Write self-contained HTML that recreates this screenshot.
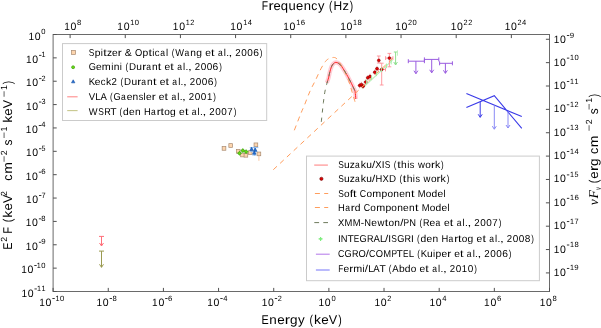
<!DOCTYPE html>
<html><head><meta charset="utf-8"><style>
html,body{margin:0;padding:0;background:#fff;}
svg{display:block;will-change:transform;}
text{font-family:"Liberation Sans", sans-serif;text-rendering:geometricPrecision;}
</style></head><body>
<svg width="601" height="328" viewBox="0 0 601 328">
<rect width="601" height="328" fill="#fff"/>
<rect x="53.1" y="34.5" width="496.4" height="257" fill="none" stroke="#6a6a6a" stroke-width="1"/>
<path d="M53.1 291.5V287.9M108.26 291.5V287.9M163.41 291.5V287.9M218.57 291.5V287.9M273.72 291.5V287.9M328.88 291.5V287.9M384.03 291.5V287.9M439.19 291.5V287.9M494.34 291.5V287.9M549.5 291.5V287.9M70.1 34.5V38.1M125.26 34.5V38.1M180.42 34.5V38.1M235.57 34.5V38.1M290.73 34.5V38.1M345.88 34.5V38.1M401.04 34.5V38.1M456.19 34.5V38.1M511.35 34.5V38.1M53.1 34.5H56.7M53.1 57.86H56.7M53.1 81.23H56.7M53.1 104.59H56.7M53.1 127.95H56.7M53.1 151.32H56.7M53.1 174.68H56.7M53.1 198.05H56.7M53.1 221.41H56.7M53.1 244.77H56.7M53.1 268.14H56.7M53.1 291.5H56.7M549.5 39.28H545.9M549.5 62.65H545.9M549.5 86.01H545.9M549.5 109.37H545.9M549.5 132.74H545.9M549.5 156.1H545.9M549.5 179.46H545.9M549.5 202.83H545.9M549.5 226.19H545.9M549.5 249.56H545.9M549.5 272.92H545.9" stroke="#505050" stroke-width="1" fill="none"/>
<text x="39.33" y="306" font-size="10.6" textLength="5.6" lengthAdjust="spacingAndGlyphs">1</text>
<text x="45.61" y="306" font-size="10.6" textLength="5.86" lengthAdjust="spacingAndGlyphs">0</text>
<rect x="52.37" y="298.05" width="2.39" height="0.8"/>
<text x="55.46" y="300.5" font-size="7.63" textLength="4.03" lengthAdjust="spacingAndGlyphs">1</text>
<text x="59.98" y="300.5" font-size="7.63" textLength="4.22" lengthAdjust="spacingAndGlyphs">0</text>
<text x="96.58" y="306" font-size="10.6" textLength="5.6" lengthAdjust="spacingAndGlyphs">1</text>
<text x="102.86" y="306" font-size="10.6" textLength="5.86" lengthAdjust="spacingAndGlyphs">0</text>
<rect x="109.63" y="298.05" width="2.39" height="0.8"/>
<text x="112.63" y="300.5" font-size="7.63" textLength="4.27" lengthAdjust="spacingAndGlyphs">8</text>
<text x="152.12" y="306" font-size="10.6" textLength="5.6" lengthAdjust="spacingAndGlyphs">1</text>
<text x="158.4" y="306" font-size="10.6" textLength="5.86" lengthAdjust="spacingAndGlyphs">0</text>
<rect x="165.16" y="298.05" width="2.39" height="0.8"/>
<text x="168.11" y="300.5" font-size="7.63" textLength="4.37" lengthAdjust="spacingAndGlyphs">6</text>
<text x="207.25" y="306" font-size="10.6" textLength="5.6" lengthAdjust="spacingAndGlyphs">1</text>
<text x="213.53" y="306" font-size="10.6" textLength="5.86" lengthAdjust="spacingAndGlyphs">0</text>
<rect x="220.29" y="298.05" width="2.39" height="0.8"/>
<text x="223.32" y="300.5" font-size="7.63" textLength="4.22" lengthAdjust="spacingAndGlyphs">4</text>
<text x="261.71" y="306" font-size="10.6" textLength="5.6" lengthAdjust="spacingAndGlyphs">1</text>
<text x="267.99" y="306" font-size="10.6" textLength="5.86" lengthAdjust="spacingAndGlyphs">0</text>
<rect x="274.76" y="298.05" width="2.39" height="0.8"/>
<text x="277.76" y="300.5" font-size="7.63" textLength="4.07" lengthAdjust="spacingAndGlyphs">2</text>
<text x="318.6" y="306" font-size="10.6" textLength="5.6" lengthAdjust="spacingAndGlyphs">1</text>
<text x="324.87" y="306" font-size="10.6" textLength="5.86" lengthAdjust="spacingAndGlyphs">0</text>
<text x="331.47" y="300.5" font-size="7.63" textLength="4.22" lengthAdjust="spacingAndGlyphs">0</text>
<text x="374.42" y="306" font-size="10.6" textLength="5.6" lengthAdjust="spacingAndGlyphs">1</text>
<text x="380.7" y="306" font-size="10.6" textLength="5.86" lengthAdjust="spacingAndGlyphs">0</text>
<text x="387.28" y="300.5" font-size="7.63" textLength="4.07" lengthAdjust="spacingAndGlyphs">2</text>
<text x="429.42" y="306" font-size="10.6" textLength="5.6" lengthAdjust="spacingAndGlyphs">1</text>
<text x="435.7" y="306" font-size="10.6" textLength="5.86" lengthAdjust="spacingAndGlyphs">0</text>
<text x="442.29" y="300.5" font-size="7.63" textLength="4.22" lengthAdjust="spacingAndGlyphs">4</text>
<text x="484.1" y="306" font-size="10.6" textLength="5.6" lengthAdjust="spacingAndGlyphs">1</text>
<text x="490.38" y="306" font-size="10.6" textLength="5.86" lengthAdjust="spacingAndGlyphs">0</text>
<text x="496.9" y="300.5" font-size="7.63" textLength="4.37" lengthAdjust="spacingAndGlyphs">6</text>
<text x="539.63" y="306" font-size="10.6" textLength="5.6" lengthAdjust="spacingAndGlyphs">1</text>
<text x="545.9" y="306" font-size="10.6" textLength="5.86" lengthAdjust="spacingAndGlyphs">0</text>
<text x="552.47" y="300.5" font-size="7.63" textLength="4.27" lengthAdjust="spacingAndGlyphs">8</text>
<text x="64.21" y="30" font-size="10.6" textLength="5.6" lengthAdjust="spacingAndGlyphs">1</text>
<text x="70.48" y="30" font-size="10.6" textLength="5.86" lengthAdjust="spacingAndGlyphs">0</text>
<text x="77.05" y="24.5" font-size="7.63" textLength="4.27" lengthAdjust="spacingAndGlyphs">8</text>
<text x="117.36" y="30" font-size="10.6" textLength="5.6" lengthAdjust="spacingAndGlyphs">1</text>
<text x="123.64" y="30" font-size="10.6" textLength="5.86" lengthAdjust="spacingAndGlyphs">0</text>
<text x="130.29" y="24.5" font-size="7.63" textLength="4.03" lengthAdjust="spacingAndGlyphs">1</text>
<text x="134.81" y="24.5" font-size="7.63" textLength="4.22" lengthAdjust="spacingAndGlyphs">0</text>
<text x="172.87" y="30" font-size="10.6" textLength="5.6" lengthAdjust="spacingAndGlyphs">1</text>
<text x="179.15" y="30" font-size="10.6" textLength="5.86" lengthAdjust="spacingAndGlyphs">0</text>
<text x="185.8" y="24.5" font-size="7.63" textLength="4.03" lengthAdjust="spacingAndGlyphs">1</text>
<text x="190.3" y="24.5" font-size="7.63" textLength="4.07" lengthAdjust="spacingAndGlyphs">2</text>
<text x="230.22" y="30" font-size="10.6" textLength="5.6" lengthAdjust="spacingAndGlyphs">1</text>
<text x="236.5" y="30" font-size="10.6" textLength="5.86" lengthAdjust="spacingAndGlyphs">0</text>
<text x="243.15" y="24.5" font-size="7.63" textLength="4.03" lengthAdjust="spacingAndGlyphs">1</text>
<text x="247.67" y="24.5" font-size="7.63" textLength="4.22" lengthAdjust="spacingAndGlyphs">4</text>
<text x="283.28" y="30" font-size="10.6" textLength="5.6" lengthAdjust="spacingAndGlyphs">1</text>
<text x="289.56" y="30" font-size="10.6" textLength="5.86" lengthAdjust="spacingAndGlyphs">0</text>
<text x="296.21" y="24.5" font-size="7.63" textLength="4.03" lengthAdjust="spacingAndGlyphs">1</text>
<text x="300.66" y="24.5" font-size="7.63" textLength="4.37" lengthAdjust="spacingAndGlyphs">6</text>
<text x="340.18" y="30" font-size="10.6" textLength="5.6" lengthAdjust="spacingAndGlyphs">1</text>
<text x="346.46" y="30" font-size="10.6" textLength="5.86" lengthAdjust="spacingAndGlyphs">0</text>
<text x="353.12" y="24.5" font-size="7.63" textLength="4.03" lengthAdjust="spacingAndGlyphs">1</text>
<text x="357.61" y="24.5" font-size="7.63" textLength="4.27" lengthAdjust="spacingAndGlyphs">8</text>
<text x="395.14" y="30" font-size="10.6" textLength="5.6" lengthAdjust="spacingAndGlyphs">1</text>
<text x="401.42" y="30" font-size="10.6" textLength="5.86" lengthAdjust="spacingAndGlyphs">0</text>
<text x="407.99" y="24.5" font-size="7.63" textLength="4.07" lengthAdjust="spacingAndGlyphs">2</text>
<text x="412.59" y="24.5" font-size="7.63" textLength="4.22" lengthAdjust="spacingAndGlyphs">0</text>
<text x="450.7" y="30" font-size="10.6" textLength="5.6" lengthAdjust="spacingAndGlyphs">1</text>
<text x="456.97" y="30" font-size="10.6" textLength="5.86" lengthAdjust="spacingAndGlyphs">0</text>
<text x="463.55" y="24.5" font-size="7.63" textLength="4.07" lengthAdjust="spacingAndGlyphs">2</text>
<text x="468.13" y="24.5" font-size="7.63" textLength="4.07" lengthAdjust="spacingAndGlyphs">2</text>
<text x="504.65" y="30" font-size="10.6" textLength="5.6" lengthAdjust="spacingAndGlyphs">1</text>
<text x="510.93" y="30" font-size="10.6" textLength="5.86" lengthAdjust="spacingAndGlyphs">0</text>
<text x="517.5" y="24.5" font-size="7.63" textLength="4.07" lengthAdjust="spacingAndGlyphs">2</text>
<text x="522.1" y="24.5" font-size="7.63" textLength="4.22" lengthAdjust="spacingAndGlyphs">4</text>
<text x="28.4" y="39.5" font-size="10.6" textLength="5.6" lengthAdjust="spacingAndGlyphs">1</text>
<text x="34.68" y="39.5" font-size="10.6" textLength="5.86" lengthAdjust="spacingAndGlyphs">0</text>
<text x="41.28" y="34" font-size="7.63" textLength="4.22" lengthAdjust="spacingAndGlyphs">0</text>
<text x="25.99" y="62.86" font-size="10.6" textLength="5.6" lengthAdjust="spacingAndGlyphs">1</text>
<text x="32.27" y="62.86" font-size="10.6" textLength="5.86" lengthAdjust="spacingAndGlyphs">0</text>
<rect x="39.04" y="54.91" width="2.39" height="0.8"/>
<text x="41.52" y="57.36" font-size="7.63" textLength="4.03" lengthAdjust="spacingAndGlyphs">1</text>
<text x="26.05" y="86.23" font-size="10.6" textLength="5.6" lengthAdjust="spacingAndGlyphs">1</text>
<text x="32.33" y="86.23" font-size="10.6" textLength="5.86" lengthAdjust="spacingAndGlyphs">0</text>
<rect x="39.09" y="78.28" width="2.39" height="0.8"/>
<text x="41.5" y="80.73" font-size="7.63" textLength="4.07" lengthAdjust="spacingAndGlyphs">2</text>
<text x="25.9" y="109.59" font-size="10.6" textLength="5.6" lengthAdjust="spacingAndGlyphs">1</text>
<text x="32.18" y="109.59" font-size="10.6" textLength="5.86" lengthAdjust="spacingAndGlyphs">0</text>
<rect x="38.95" y="101.64" width="2.39" height="0.8"/>
<text x="41.47" y="104.09" font-size="7.63" textLength="4.05" lengthAdjust="spacingAndGlyphs">3</text>
<text x="25.73" y="132.95" font-size="10.6" textLength="5.6" lengthAdjust="spacingAndGlyphs">1</text>
<text x="32.01" y="132.95" font-size="10.6" textLength="5.86" lengthAdjust="spacingAndGlyphs">0</text>
<rect x="38.78" y="125" width="2.39" height="0.8"/>
<text x="41.2" y="127.45" font-size="7.63" textLength="4.22" lengthAdjust="spacingAndGlyphs">4</text>
<text x="25.96" y="156.32" font-size="10.6" textLength="5.6" lengthAdjust="spacingAndGlyphs">1</text>
<text x="32.24" y="156.32" font-size="10.6" textLength="5.86" lengthAdjust="spacingAndGlyphs">0</text>
<rect x="39" y="148.37" width="2.39" height="0.8"/>
<text x="41.52" y="150.82" font-size="7.63" textLength="3.98" lengthAdjust="spacingAndGlyphs">5</text>
<text x="25.78" y="179.68" font-size="10.6" textLength="5.6" lengthAdjust="spacingAndGlyphs">1</text>
<text x="32.06" y="179.68" font-size="10.6" textLength="5.86" lengthAdjust="spacingAndGlyphs">0</text>
<rect x="38.83" y="171.73" width="2.39" height="0.8"/>
<text x="41.18" y="174.18" font-size="7.63" textLength="4.37" lengthAdjust="spacingAndGlyphs">6</text>
<text x="25.94" y="203.05" font-size="10.6" textLength="5.6" lengthAdjust="spacingAndGlyphs">1</text>
<text x="32.22" y="203.05" font-size="10.6" textLength="5.86" lengthAdjust="spacingAndGlyphs">0</text>
<rect x="38.99" y="195.1" width="2.39" height="0.8"/>
<text x="41.44" y="197.55" font-size="7.63" textLength="4.13" lengthAdjust="spacingAndGlyphs">7</text>
<text x="25.82" y="226.41" font-size="10.6" textLength="5.6" lengthAdjust="spacingAndGlyphs">1</text>
<text x="32.1" y="226.41" font-size="10.6" textLength="5.86" lengthAdjust="spacingAndGlyphs">0</text>
<rect x="38.86" y="218.46" width="2.39" height="0.8"/>
<text x="41.27" y="220.91" font-size="7.63" textLength="4.27" lengthAdjust="spacingAndGlyphs">8</text>
<text x="25.83" y="249.77" font-size="10.6" textLength="5.6" lengthAdjust="spacingAndGlyphs">1</text>
<text x="32.11" y="249.77" font-size="10.6" textLength="5.86" lengthAdjust="spacingAndGlyphs">0</text>
<rect x="38.88" y="241.82" width="2.39" height="0.8"/>
<text x="41.21" y="244.27" font-size="7.63" textLength="4.36" lengthAdjust="spacingAndGlyphs">9</text>
<text x="21.23" y="273.14" font-size="10.6" textLength="5.6" lengthAdjust="spacingAndGlyphs">1</text>
<text x="27.5" y="273.14" font-size="10.6" textLength="5.86" lengthAdjust="spacingAndGlyphs">0</text>
<rect x="34.27" y="265.19" width="2.39" height="0.8"/>
<text x="36.76" y="267.64" font-size="7.63" textLength="4.03" lengthAdjust="spacingAndGlyphs">1</text>
<text x="41.28" y="267.64" font-size="7.63" textLength="4.22" lengthAdjust="spacingAndGlyphs">0</text>
<text x="21.41" y="296.5" font-size="10.6" textLength="5.6" lengthAdjust="spacingAndGlyphs">1</text>
<text x="27.69" y="296.5" font-size="10.6" textLength="5.86" lengthAdjust="spacingAndGlyphs">0</text>
<rect x="34.46" y="288.55" width="2.39" height="0.8"/>
<text x="36.94" y="291" font-size="7.63" textLength="4.03" lengthAdjust="spacingAndGlyphs">1</text>
<text x="41.52" y="291" font-size="7.63" textLength="4.03" lengthAdjust="spacingAndGlyphs">1</text>
<text x="553.83" y="43.08" font-size="10.6" textLength="5.6" lengthAdjust="spacingAndGlyphs">1</text>
<text x="560.11" y="43.08" font-size="10.6" textLength="5.86" lengthAdjust="spacingAndGlyphs">0</text>
<rect x="566.88" y="35.13" width="2.39" height="0.8"/>
<text x="569.81" y="37.58" font-size="7.63" textLength="4.36" lengthAdjust="spacingAndGlyphs">9</text>
<text x="553.83" y="65.65" font-size="10.6" textLength="5.6" lengthAdjust="spacingAndGlyphs">1</text>
<text x="560.11" y="65.65" font-size="10.6" textLength="5.86" lengthAdjust="spacingAndGlyphs">0</text>
<rect x="566.88" y="57.7" width="2.39" height="0.8"/>
<text x="569.96" y="60.15" font-size="7.63" textLength="4.03" lengthAdjust="spacingAndGlyphs">1</text>
<text x="574.48" y="60.15" font-size="7.63" textLength="4.22" lengthAdjust="spacingAndGlyphs">0</text>
<text x="553.83" y="89.01" font-size="10.6" textLength="5.6" lengthAdjust="spacingAndGlyphs">1</text>
<text x="560.11" y="89.01" font-size="10.6" textLength="5.86" lengthAdjust="spacingAndGlyphs">0</text>
<rect x="566.88" y="81.06" width="2.39" height="0.8"/>
<text x="569.96" y="83.51" font-size="7.63" textLength="4.03" lengthAdjust="spacingAndGlyphs">1</text>
<text x="574.54" y="83.51" font-size="7.63" textLength="4.03" lengthAdjust="spacingAndGlyphs">1</text>
<text x="553.83" y="112.37" font-size="10.6" textLength="5.6" lengthAdjust="spacingAndGlyphs">1</text>
<text x="560.11" y="112.37" font-size="10.6" textLength="5.86" lengthAdjust="spacingAndGlyphs">0</text>
<rect x="566.88" y="104.42" width="2.39" height="0.8"/>
<text x="569.96" y="106.87" font-size="7.63" textLength="4.03" lengthAdjust="spacingAndGlyphs">1</text>
<text x="574.46" y="106.87" font-size="7.63" textLength="4.07" lengthAdjust="spacingAndGlyphs">2</text>
<text x="553.83" y="135.74" font-size="10.6" textLength="5.6" lengthAdjust="spacingAndGlyphs">1</text>
<text x="560.11" y="135.74" font-size="10.6" textLength="5.86" lengthAdjust="spacingAndGlyphs">0</text>
<rect x="566.88" y="127.79" width="2.39" height="0.8"/>
<text x="569.96" y="130.24" font-size="7.63" textLength="4.03" lengthAdjust="spacingAndGlyphs">1</text>
<text x="574.58" y="130.24" font-size="7.63" textLength="4.05" lengthAdjust="spacingAndGlyphs">3</text>
<text x="553.83" y="159.1" font-size="10.6" textLength="5.6" lengthAdjust="spacingAndGlyphs">1</text>
<text x="560.11" y="159.1" font-size="10.6" textLength="5.86" lengthAdjust="spacingAndGlyphs">0</text>
<rect x="566.88" y="151.15" width="2.39" height="0.8"/>
<text x="569.96" y="153.6" font-size="7.63" textLength="4.03" lengthAdjust="spacingAndGlyphs">1</text>
<text x="574.48" y="153.6" font-size="7.63" textLength="4.22" lengthAdjust="spacingAndGlyphs">4</text>
<text x="553.83" y="182.46" font-size="10.6" textLength="5.6" lengthAdjust="spacingAndGlyphs">1</text>
<text x="560.11" y="182.46" font-size="10.6" textLength="5.86" lengthAdjust="spacingAndGlyphs">0</text>
<rect x="566.88" y="174.51" width="2.39" height="0.8"/>
<text x="569.96" y="176.96" font-size="7.63" textLength="4.03" lengthAdjust="spacingAndGlyphs">1</text>
<text x="574.57" y="176.96" font-size="7.63" textLength="3.98" lengthAdjust="spacingAndGlyphs">5</text>
<text x="553.83" y="205.83" font-size="10.6" textLength="5.6" lengthAdjust="spacingAndGlyphs">1</text>
<text x="560.11" y="205.83" font-size="10.6" textLength="5.86" lengthAdjust="spacingAndGlyphs">0</text>
<rect x="566.88" y="197.88" width="2.39" height="0.8"/>
<text x="569.96" y="200.33" font-size="7.63" textLength="4.03" lengthAdjust="spacingAndGlyphs">1</text>
<text x="574.41" y="200.33" font-size="7.63" textLength="4.37" lengthAdjust="spacingAndGlyphs">6</text>
<text x="553.83" y="229.19" font-size="10.6" textLength="5.6" lengthAdjust="spacingAndGlyphs">1</text>
<text x="560.11" y="229.19" font-size="10.6" textLength="5.86" lengthAdjust="spacingAndGlyphs">0</text>
<rect x="566.88" y="221.24" width="2.39" height="0.8"/>
<text x="569.96" y="223.69" font-size="7.63" textLength="4.03" lengthAdjust="spacingAndGlyphs">1</text>
<text x="574.51" y="223.69" font-size="7.63" textLength="4.13" lengthAdjust="spacingAndGlyphs">7</text>
<text x="553.83" y="252.56" font-size="10.6" textLength="5.6" lengthAdjust="spacingAndGlyphs">1</text>
<text x="560.11" y="252.56" font-size="10.6" textLength="5.86" lengthAdjust="spacingAndGlyphs">0</text>
<rect x="566.88" y="244.61" width="2.39" height="0.8"/>
<text x="569.96" y="247.06" font-size="7.63" textLength="4.03" lengthAdjust="spacingAndGlyphs">1</text>
<text x="574.46" y="247.06" font-size="7.63" textLength="4.27" lengthAdjust="spacingAndGlyphs">8</text>
<text x="553.83" y="275.92" font-size="10.6" textLength="5.6" lengthAdjust="spacingAndGlyphs">1</text>
<text x="560.11" y="275.92" font-size="10.6" textLength="5.86" lengthAdjust="spacingAndGlyphs">0</text>
<rect x="566.88" y="267.97" width="2.39" height="0.8"/>
<text x="569.96" y="270.42" font-size="7.63" textLength="4.03" lengthAdjust="spacingAndGlyphs">1</text>
<text x="574.39" y="270.42" font-size="7.63" textLength="4.36" lengthAdjust="spacingAndGlyphs">9</text>
<text x="261.75" y="9.7" font-size="12.72" textLength="6.31" lengthAdjust="spacingAndGlyphs">F</text>
<text x="268.42" y="9.7" font-size="12.72" textLength="5.14" lengthAdjust="spacingAndGlyphs">r</text>
<text x="273.42" y="9.7" font-size="12.72" textLength="7.24" lengthAdjust="spacingAndGlyphs">e</text>
<text x="280.83" y="9.7" font-size="12.72" textLength="7.28" lengthAdjust="spacingAndGlyphs">q</text>
<text x="288.55" y="9.7" font-size="12.72" textLength="7.23" lengthAdjust="spacingAndGlyphs">u</text>
<text x="296.12" y="9.7" font-size="12.72" textLength="7.24" lengthAdjust="spacingAndGlyphs">e</text>
<text x="303.65" y="9.7" font-size="12.72" textLength="7.23" lengthAdjust="spacingAndGlyphs">n</text>
<text x="311.21" y="9.7" font-size="12.72" textLength="6.05" lengthAdjust="spacingAndGlyphs">c</text>
<text x="318.01" y="9.7" font-size="12.72" textLength="6.47" lengthAdjust="spacingAndGlyphs">y</text>
<text x="329.05" y="9.7" font-size="12.72" textLength="3.39" lengthAdjust="spacingAndGlyphs">(</text>
<text x="333.55" y="9.7" font-size="12.72" textLength="8.66" lengthAdjust="spacingAndGlyphs">H</text>
<text x="342.4" y="9.7" font-size="12.72" textLength="6.46" lengthAdjust="spacingAndGlyphs">z</text>
<text x="349.64" y="9.7" font-size="12.72" textLength="3.39" lengthAdjust="spacingAndGlyphs">)</text>
<text x="261.61" y="324.2" font-size="12.72" textLength="7.2" lengthAdjust="spacingAndGlyphs">E</text>
<text x="269.39" y="324.2" font-size="12.72" textLength="7.47" lengthAdjust="spacingAndGlyphs">n</text>
<text x="277.16" y="324.2" font-size="12.72" textLength="7.48" lengthAdjust="spacingAndGlyphs">e</text>
<text x="284.77" y="324.2" font-size="12.72" textLength="5.31" lengthAdjust="spacingAndGlyphs">r</text>
<text x="289.94" y="324.2" font-size="12.72" textLength="7.53" lengthAdjust="spacingAndGlyphs">g</text>
<text x="298.07" y="324.2" font-size="12.72" textLength="6.69" lengthAdjust="spacingAndGlyphs">y</text>
<text x="309.48" y="324.2" font-size="12.72" textLength="3.51" lengthAdjust="spacingAndGlyphs">(</text>
<text x="314.11" y="324.2" font-size="12.72" textLength="6.96" lengthAdjust="spacingAndGlyphs">k</text>
<text x="321.24" y="324.2" font-size="12.72" textLength="7.48" lengthAdjust="spacingAndGlyphs">e</text>
<text x="328.83" y="324.2" font-size="12.72" textLength="8.43" lengthAdjust="spacingAndGlyphs">V</text>
<text x="338.25" y="324.2" font-size="12.72" textLength="3.51" lengthAdjust="spacingAndGlyphs">)</text>
<g transform="translate(11.5,248.9) rotate(-90)">
<text x="-0.88" y="0" font-size="12.72" textLength="7.14" lengthAdjust="spacingAndGlyphs">E</text>
<text x="7.16" y="-5" font-size="8.9" textLength="4.89" lengthAdjust="spacingAndGlyphs">2</text>
<text x="15.43" y="0" font-size="12.72" textLength="6.47" lengthAdjust="spacingAndGlyphs">F</text>
<text x="26.65" y="0" font-size="12.72" textLength="3.48" lengthAdjust="spacingAndGlyphs">(</text>
<text x="31.25" y="0" font-size="12.72" textLength="6.91" lengthAdjust="spacingAndGlyphs">k</text>
<text x="38.33" y="0" font-size="12.72" textLength="7.42" lengthAdjust="spacingAndGlyphs">e</text>
<text x="45.86" y="0" font-size="12.72" textLength="8.37" lengthAdjust="spacingAndGlyphs">V</text>
<text x="52.96" y="-5" font-size="8.9" textLength="4.89" lengthAdjust="spacingAndGlyphs">2</text>
<text x="68.27" y="0" font-size="12.72" textLength="6.2" lengthAdjust="spacingAndGlyphs">c</text>
<text x="75.1" y="0" font-size="12.72" textLength="11.73" lengthAdjust="spacingAndGlyphs">m</text>
<text x="86.65" y="-5" font-size="8.9" textLength="6.51" lengthAdjust="spacingAndGlyphs">−</text>
<text x="93.72" y="-5" font-size="8.9" textLength="4.89" lengthAdjust="spacingAndGlyphs">2</text>
<text x="103.37" y="0" font-size="12.72" textLength="5.92" lengthAdjust="spacingAndGlyphs">s</text>
<text x="110.35" y="-5" font-size="8.9" textLength="6.51" lengthAdjust="spacingAndGlyphs">−</text>
<text x="117.52" y="-5" font-size="8.9" textLength="4.84" lengthAdjust="spacingAndGlyphs">1</text>
<text x="126.17" y="0" font-size="12.72" textLength="6.91" lengthAdjust="spacingAndGlyphs">k</text>
<text x="133.25" y="0" font-size="12.72" textLength="7.42" lengthAdjust="spacingAndGlyphs">e</text>
<text x="140.78" y="0" font-size="12.72" textLength="8.37" lengthAdjust="spacingAndGlyphs">V</text>
<text x="151.75" y="-5" font-size="8.9" textLength="6.51" lengthAdjust="spacingAndGlyphs">−</text>
<text x="158.92" y="-5" font-size="8.9" textLength="4.84" lengthAdjust="spacingAndGlyphs">1</text>
<text x="164.74" y="0" font-size="12.72" textLength="3.48" lengthAdjust="spacingAndGlyphs">)</text>
</g>
<g transform="translate(598.1,207.7) rotate(-90)">
<text x="2.4" y="0" font-size="13.44" style="font-family:'Liberation Serif', serif;font-style:italic" textLength="6" lengthAdjust="spacingAndGlyphs">ν</text>
<text x="9.2" y="0" font-size="13.44" style="font-family:'Liberation Serif', serif;font-style:italic" textLength="8.4" lengthAdjust="spacingAndGlyphs">F</text>
<text x="17.6" y="2.4" font-size="9.41" style="font-family:'Liberation Serif', serif;font-style:italic" textLength="3.1" lengthAdjust="spacingAndGlyphs">ν</text>
<text x="24.55" y="0" font-size="12.72" textLength="3.48" lengthAdjust="spacingAndGlyphs">(</text>
<text x="29.07" y="0" font-size="12.72" textLength="7.42" lengthAdjust="spacingAndGlyphs">e</text>
<text x="36.64" y="0" font-size="12.72" textLength="5.27" lengthAdjust="spacingAndGlyphs">r</text>
<text x="41.76" y="0" font-size="12.72" textLength="7.47" lengthAdjust="spacingAndGlyphs">g</text>
<text x="53.58" y="0" font-size="12.72" textLength="6.2" lengthAdjust="spacingAndGlyphs">c</text>
<text x="60.4" y="0" font-size="12.72" textLength="11.73" lengthAdjust="spacingAndGlyphs">m</text>
<text x="76.35" y="-6.2" font-size="8.9" textLength="6.51" lengthAdjust="spacingAndGlyphs">−</text>
<text x="83.42" y="-6.2" font-size="8.9" textLength="4.89" lengthAdjust="spacingAndGlyphs">2</text>
<text x="93.37" y="0" font-size="12.72" textLength="5.92" lengthAdjust="spacingAndGlyphs">s</text>
<text x="97.75" y="-6.2" font-size="8.9" textLength="6.51" lengthAdjust="spacingAndGlyphs">−</text>
<text x="104.92" y="-6.2" font-size="8.9" textLength="4.84" lengthAdjust="spacingAndGlyphs">1</text>
<text x="110.44" y="0" font-size="12.72" textLength="3.48" lengthAdjust="spacingAndGlyphs">)</text>
</g>
<rect x="222.15" y="146.55" width="3.7" height="3.7" fill="#fdd5ae" stroke="#a88a70" stroke-width="0.7"/>
<rect x="228.85" y="143.65" width="3.7" height="3.7" fill="#fdd5ae" stroke="#a88a70" stroke-width="0.7"/>
<rect x="236.35" y="149.45" width="3.7" height="3.7" fill="#fdd5ae" stroke="#a88a70" stroke-width="0.7"/>
<rect x="240.65" y="153.15" width="3.7" height="3.7" fill="#fdd5ae" stroke="#a88a70" stroke-width="0.7"/>
<rect x="244.05" y="153.45" width="3.7" height="3.7" fill="#fdd5ae" stroke="#a88a70" stroke-width="0.7"/>
<rect x="248.35" y="150.75" width="3.7" height="3.7" fill="#fdd5ae" stroke="#a88a70" stroke-width="0.7"/>
<rect x="254.05" y="142.95" width="3.7" height="3.7" fill="#fdd5ae" stroke="#a88a70" stroke-width="0.7"/>
<path d="M258.9 152V160.8M258.9 152H258.9M258.9 160.8H258.9" fill="none" stroke="#f8b98a" stroke-width="0.8"/>
<rect x="257.05" y="152.05" width="3.7" height="3.7" fill="#fdd5ae" stroke="#a88a70" stroke-width="0.7"/>
<path d="M239.5 150.9V155.5M239.5 150.9H239.5M239.5 155.5H239.5M237.2 153.2H241.8M237.2 153.2V153.2M241.8 153.2V153.2" fill="none" stroke="#55cc22" stroke-width="0.8"/>
<circle cx="239.5" cy="153.2" r="1.5" fill="#66dd11" stroke="#3a9010" stroke-width="0.6"/>
<path d="M242.8 148.3V152.9M242.8 148.3H242.8M242.8 152.9H242.8M240.5 150.6H245.1M240.5 150.6V150.6M245.1 150.6V150.6" fill="none" stroke="#55cc22" stroke-width="0.8"/>
<circle cx="242.8" cy="150.6" r="1.5" fill="#66dd11" stroke="#3a9010" stroke-width="0.6"/>
<path d="M246.1 149.4V154M246.1 149.4H246.1M246.1 154H246.1M243.8 151.7H248.4M243.8 151.7V151.7M248.4 151.7V151.7" fill="none" stroke="#55cc22" stroke-width="0.8"/>
<circle cx="246.1" cy="151.7" r="1.5" fill="#66dd11" stroke="#3a9010" stroke-width="0.6"/>
<path d="M254.6 146.4V155.6M249.8 147.6H258.3M252.3 155H256.2M250.2 151.6H257.4" fill="none" stroke="#7fb4f2" stroke-width="0.9"/>
<path d="M251.6 147.33L253.35 150.47L249.85 150.47Z" fill="#2070d8" stroke="#1a4fa0" stroke-width="0.6"/>
<path d="M255.2 148.03L256.95 151.17L253.45 151.17Z" fill="#2070d8" stroke="#1a4fa0" stroke-width="0.6"/>
<path d="M254.3 151.03L256.05 154.17L252.55 154.17Z" fill="#2070d8" stroke="#1a4fa0" stroke-width="0.6"/>
<path d="M101.5 236.4V246M99 236.4H104M99.5 243L101.5 246L103.5 243" fill="none" stroke="#ff6f7a" stroke-width="1.0"/>
<path d="M101.5 251.1V267.3M99 251.1H104M99.5 264.3L101.5 267.3L103.5 264.3" fill="none" stroke="#9a9a50" stroke-width="1.0"/>
<path d="M326.9 82.8C327.18 81.97 328.15 79.45 328.6 77.8C329.05 76.15 329.13 74.72 329.6 72.9C330.07 71.08 330.78 68.42 331.4 66.9C332.02 65.38 332.53 64.55 333.3 63.8C334.07 63.05 334.93 62.35 336 62.4C337.07 62.45 338.55 63.12 339.7 64.1C340.85 65.08 341.77 66.62 342.9 68.3C344.03 69.98 345.52 72.52 346.5 74.2C347.48 75.88 347.97 76.83 348.8 78.4C349.63 79.97 350.7 82 351.5 83.6C352.3 85.2 353 86.68 353.6 88C354.2 89.32 354.73 89.67 355.1 91.5C355.47 93.33 355.68 97.75 355.8 99" fill="none" stroke="#ffcdd6" stroke-width="4.3"/>
<path d="M326.9 82.8C327.18 81.97 328.15 79.45 328.6 77.8C329.05 76.15 329.13 74.72 329.6 72.9C330.07 71.08 330.78 68.42 331.4 66.9C332.02 65.38 332.53 64.55 333.3 63.8C334.07 63.05 334.93 62.35 336 62.4C337.07 62.45 338.55 63.12 339.7 64.1C340.85 65.08 341.77 66.62 342.9 68.3C344.03 69.98 345.52 72.52 346.5 74.2C347.48 75.88 347.97 76.83 348.8 78.4C349.63 79.97 350.7 82 351.5 83.6C352.3 85.2 353 86.68 353.6 88C354.2 89.32 354.73 89.67 355.1 91.5C355.47 93.33 355.68 97.75 355.8 99" fill="none" stroke="#ff1c1c" stroke-width="0.95"/>
<path d="M362 88.6L392.5 60.2" fill="none" stroke="#b8f0b8" stroke-width="1.1"/>
<path d="M359.7 82.7V88.3M359.7 82.7H359.7M359.7 88.3H359.7M357.7 85.5H361.7M357.7 85.5V85.5M361.7 85.5V85.5" fill="none" stroke="#ff9a9a" stroke-width="0.8"/>
<path d="M361.4 81.8V87.4M361.4 81.8H361.4M361.4 87.4H361.4M359.4 84.6H363.4M359.4 84.6V84.6M363.4 84.6V84.6" fill="none" stroke="#ff9a9a" stroke-width="0.8"/>
<path d="M363.1 83.4V89M363.1 83.4H363.1M363.1 89H363.1M361.1 86.2H365.1M361.1 86.2V86.2M365.1 86.2V86.2" fill="none" stroke="#ff9a9a" stroke-width="0.8"/>
<path d="M365.7 79.3V84.9M365.7 79.3H365.7M365.7 84.9H365.7M363.7 82.1H367.7M363.7 82.1V82.1M367.7 82.1V82.1" fill="none" stroke="#ff9a9a" stroke-width="0.8"/>
<path d="M367.8 75V80.6M367.8 75H367.8M367.8 80.6H367.8M365.8 77.8H369.8M365.8 77.8V77.8M369.8 77.8V77.8" fill="none" stroke="#ff9a9a" stroke-width="0.8"/>
<path d="M370 73.7V79.3M370 73.7H370M370 79.3H370M368 76.5H372M368 76.5V76.5M372 76.5V76.5" fill="none" stroke="#ff9a9a" stroke-width="0.8"/>
<path d="M374.8 69.5V75.1M374.8 69.5H374.8M374.8 75.1H374.8M372.8 72.3H376.8M372.8 72.3V72.3M376.8 72.3V72.3" fill="none" stroke="#ff9a9a" stroke-width="0.8"/>
<path d="M377 65.9V71.5M377 65.9H377M377 71.5H377M375 68.7H379M375 68.7V68.7M379 68.7V68.7" fill="none" stroke="#ff9a9a" stroke-width="0.8"/>
<path d="M378.8 56V63M376.9 56H380.7M376.9 63H380.7" fill="none" stroke="#ff8f96" stroke-width="0.9"/>
<path d="M381.7 63.2V85M379.8 63.2H383.6M379.8 85H383.6M378.2 69.5H385.5M378.2 67.6V71.4M385.5 67.6V71.4" fill="none" stroke="#ff8f96" stroke-width="0.9"/>
<path d="M389.4 53.4V66.8M387.5 53.4H391.3M387.5 66.8H391.3M385.6 58.1H392.9M385.6 56.2V60M392.9 56.2V60" fill="none" stroke="#ff8f96" stroke-width="0.9"/>
<circle cx="359.7" cy="85.5" r="1.45" fill="#e80000" stroke="#700000" stroke-width="0.5"/>
<circle cx="361.4" cy="84.6" r="1.45" fill="#e80000" stroke="#700000" stroke-width="0.5"/>
<circle cx="363.1" cy="86.2" r="1.45" fill="#e80000" stroke="#700000" stroke-width="0.5"/>
<circle cx="365.7" cy="82.1" r="1.45" fill="#e80000" stroke="#700000" stroke-width="0.5"/>
<circle cx="367.8" cy="77.8" r="1.45" fill="#e80000" stroke="#700000" stroke-width="0.5"/>
<circle cx="370" cy="76.5" r="1.45" fill="#e80000" stroke="#700000" stroke-width="0.5"/>
<circle cx="374.8" cy="72.3" r="1.45" fill="#e80000" stroke="#700000" stroke-width="0.5"/>
<circle cx="377" cy="68.7" r="1.45" fill="#e80000" stroke="#700000" stroke-width="0.5"/>
<circle cx="378.8" cy="60.4" r="1.45" fill="#e80000" stroke="#700000" stroke-width="0.5"/>
<circle cx="381.7" cy="69.5" r="1.45" fill="#e80000" stroke="#700000" stroke-width="0.5"/>
<circle cx="389.4" cy="58.1" r="1.45" fill="#e80000" stroke="#700000" stroke-width="0.5"/>
<path d="M293.5 132.4C294.65 129.43 298.57 119.17 300.4 114.6C302.23 110.03 302.9 108.9 304.5 105C306.1 101.1 308.17 95.33 310 91.2C311.83 87.07 313.68 83.93 315.5 80.2C317.32 76.47 319.23 71.93 320.9 68.8C322.57 65.67 324.2 63.08 325.5 61.4C326.8 59.72 327.7 59.3 328.7 58.7C329.7 58.1 330.53 58 331.5 57.8C332.47 57.6 333.6 57.32 334.5 57.5C335.4 57.68 336.03 58.05 336.9 58.9C337.77 59.75 338.68 60.98 339.7 62.6C340.72 64.22 341.95 66.62 343 68.6C344.05 70.58 345.07 72.52 346 74.5C346.93 76.48 347.83 78.42 348.6 80.5C349.37 82.58 349.97 84.92 350.6 87C351.23 89.08 351.83 91.12 352.4 93C352.97 94.88 353.55 96.8 354 98.3C354.45 99.8 354.92 101.38 355.1 102" fill="none" stroke="#ff9d5c" stroke-width="1.0" stroke-dasharray="5 4.3" stroke-dashoffset="-2.5"/>
<path d="M273.3 169.7L393.8 57.4" fill="none" stroke="#ff9d5c" stroke-width="1.0" stroke-dasharray="5 4.3"/>
<path d="M321.3 121.9C321.47 120.32 321.95 115.63 322.3 112.4C322.65 109.17 322.98 105.87 323.4 102.5C323.82 99.13 324.27 95.2 324.8 92.2C325.33 89.2 325.97 86.9 326.6 84.5C327.23 82.1 328.1 79.73 328.6 77.8C329.1 75.87 329.13 74.72 329.6 72.9C330.07 71.08 330.78 68.42 331.4 66.9C332.02 65.38 332.53 64.55 333.3 63.8C334.07 63.05 334.93 62.35 336 62.4C337.07 62.45 338.55 63.12 339.7 64.1C340.85 65.08 341.77 66.62 342.9 68.3C344.03 69.98 345.52 72.52 346.5 74.2C347.48 75.88 347.97 76.83 348.8 78.4C349.63 79.97 350.7 82 351.5 83.6C352.3 85.2 353 86.68 353.6 88C354.2 89.32 354.85 90.92 355.1 91.5" fill="none" stroke="#6e7a5c" stroke-width="1.0" stroke-dasharray="4.3 5"/>
<path d="M391.2 59.8V64.4M386.5 63.6V68.2M381.5 67.6V72.2M376.5 71.5V76.1M371.5 75.5V80.1M366.5 79.5V84.1" fill="none" stroke="#a3eba3" stroke-width="0.9"/>
<path d="M395.6 52V65M393.8 52H397.4M393.8 62L395.6 65L397.4 62" fill="none" stroke="#8fe08f" stroke-width="1.0"/>
<path d="M397.5 50.3V55.7" fill="none" stroke="#b5efb5" stroke-width="0.8"/>
<path d="M408.3 61.2H424.4M408.3 59.2V63.2M424.4 59.2V63.2M415.9 61.2V73.7M413.9 70.7L415.9 73.7L417.9 70.7" fill="none" stroke="#9a5ce0" stroke-width="1.0"/>
<path d="M424.4 59.4H438.8M424.4 57.4V61.4M438.8 57.4V61.4M431.7 59.4V72.8M429.7 69.8L431.7 72.8L433.7 69.8" fill="none" stroke="#9a5ce0" stroke-width="1.0"/>
<path d="M439.6 63.3H452.4M439.6 61.3V65.3M452.4 61.3V65.3M445.4 63.3V73.3M443.4 70.3L445.4 73.3L447.4 70.3" fill="none" stroke="#9a5ce0" stroke-width="1.0"/>
<path d="M466.4 93.4L521.8 116.6M466.4 107.6L494.3 95.7L521.8 128.4" fill="none" stroke="#3a3ae8" stroke-width="1.1"/>
<path d="M480.2 101.8V117.3M478.2 114.3L480.2 117.3L482.2 114.3" fill="none" stroke="#3a3ae8" stroke-width="1.0"/>
<path d="M494.3 105.6V129.2M492.3 126.2L494.3 129.2L496.3 126.2" fill="none" stroke="#8a8af6" stroke-width="1.0"/>
<path d="M508 110.9V128M506 125L508 128L510 125" fill="none" stroke="#8a8af6" stroke-width="1.0"/>
<rect x="62.5" y="43.6" width="204.2" height="76.9" fill="#fff" fill-opacity="0.85" stroke="#cbcbcb" stroke-width="1"/>
<rect x="71.5" y="50.4" width="4" height="4" fill="#fdd5ae" stroke="#a88a70" stroke-width="0.7"/>
<circle cx="73.1" cy="67.2" r="1.5" fill="#66dd11" stroke="#3a9010" stroke-width="0.6"/>
<path d="M73.2 79.77L74.9 82.83L71.5 82.83Z" fill="#2070d8" stroke="#1a4fa0" stroke-width="0.6"/>
<path d="M67.2 96.8H77.6" fill="none" stroke="#ff8c8c" stroke-width="1.1"/>
<path d="M67.2 110.6H77.6" fill="none" stroke="#c8c88e" stroke-width="1.1"/>
<text x="88.84" y="55.7" font-size="10.01" textLength="5.62" lengthAdjust="spacingAndGlyphs">S</text>
<text x="94.79" y="55.7" font-size="10.01" textLength="5.72" lengthAdjust="spacingAndGlyphs">p</text>
<text x="100.84" y="55.7" font-size="10.01" textLength="2.15" lengthAdjust="spacingAndGlyphs">i</text>
<text x="103.29" y="55.7" font-size="10.01" textLength="3.51" lengthAdjust="spacingAndGlyphs">t</text>
<text x="106.92" y="55.7" font-size="10.01" textLength="5.06" lengthAdjust="spacingAndGlyphs">z</text>
<text x="111.98" y="55.7" font-size="10.01" textLength="5.68" lengthAdjust="spacingAndGlyphs">e</text>
<text x="117.76" y="55.7" font-size="10.01" textLength="4.03" lengthAdjust="spacingAndGlyphs">r</text>
<text x="124.82" y="55.7" font-size="10.01" textLength="7.02" lengthAdjust="spacingAndGlyphs">&amp;</text>
<text x="135.05" y="55.7" font-size="10.01" textLength="7.27" lengthAdjust="spacingAndGlyphs">O</text>
<text x="142.6" y="55.7" font-size="10.01" textLength="5.72" lengthAdjust="spacingAndGlyphs">p</text>
<text x="148.46" y="55.7" font-size="10.01" textLength="3.51" lengthAdjust="spacingAndGlyphs">t</text>
<text x="152.35" y="55.7" font-size="10.01" textLength="2.15" lengthAdjust="spacingAndGlyphs">i</text>
<text x="154.85" y="55.7" font-size="10.01" textLength="4.74" lengthAdjust="spacingAndGlyphs">c</text>
<text x="160.13" y="55.7" font-size="10.01" textLength="4.73" lengthAdjust="spacingAndGlyphs">a</text>
<text x="165.96" y="55.7" font-size="10.01" textLength="2.15" lengthAdjust="spacingAndGlyphs">l</text>
<text x="171.66" y="55.7" font-size="10.01" textLength="2.66" lengthAdjust="spacingAndGlyphs">(</text>
<text x="175.31" y="55.7" font-size="10.01" textLength="8.79" lengthAdjust="spacingAndGlyphs">W</text>
<text x="184.58" y="55.7" font-size="10.01" textLength="4.73" lengthAdjust="spacingAndGlyphs">a</text>
<text x="190.35" y="55.7" font-size="10.01" textLength="5.67" lengthAdjust="spacingAndGlyphs">n</text>
<text x="196.25" y="55.7" font-size="10.01" textLength="5.71" lengthAdjust="spacingAndGlyphs">g</text>
<text x="205.25" y="55.7" font-size="10.01" textLength="5.68" lengthAdjust="spacingAndGlyphs">e</text>
<text x="211.04" y="55.7" font-size="10.01" textLength="3.51" lengthAdjust="spacingAndGlyphs">t</text>
<text x="217.89" y="55.7" font-size="10.01" textLength="4.73" lengthAdjust="spacingAndGlyphs">a</text>
<text x="223.71" y="55.7" font-size="10.01" textLength="2.15" lengthAdjust="spacingAndGlyphs">l</text>
<text x="226.18" y="55.7" font-size="10.01" textLength="2.84" lengthAdjust="spacingAndGlyphs">.</text>
<text x="228.6" y="55.7" font-size="10.01" textLength="3.83" lengthAdjust="spacingAndGlyphs">,</text>
<text x="235.32" y="55.7" font-size="10.01" textLength="5.34" lengthAdjust="spacingAndGlyphs">2</text>
<text x="241.36" y="55.7" font-size="10.01" textLength="5.54" lengthAdjust="spacingAndGlyphs">0</text>
<text x="247.37" y="55.7" font-size="10.01" textLength="5.54" lengthAdjust="spacingAndGlyphs">0</text>
<text x="253.29" y="55.7" font-size="10.01" textLength="5.73" lengthAdjust="spacingAndGlyphs">6</text>
<text x="259.87" y="55.7" font-size="10.01" textLength="2.66" lengthAdjust="spacingAndGlyphs">)</text>
<text x="88.67" y="70.45" font-size="10.01" textLength="7.17" lengthAdjust="spacingAndGlyphs">G</text>
<text x="96.01" y="70.45" font-size="10.01" textLength="5.68" lengthAdjust="spacingAndGlyphs">e</text>
<text x="101.88" y="70.45" font-size="10.01" textLength="8.97" lengthAdjust="spacingAndGlyphs">m</text>
<text x="111.19" y="70.45" font-size="10.01" textLength="2.15" lengthAdjust="spacingAndGlyphs">i</text>
<text x="113.75" y="70.45" font-size="10.01" textLength="5.67" lengthAdjust="spacingAndGlyphs">n</text>
<text x="119.8" y="70.45" font-size="10.01" textLength="2.15" lengthAdjust="spacingAndGlyphs">i</text>
<text x="125.5" y="70.45" font-size="10.01" textLength="2.66" lengthAdjust="spacingAndGlyphs">(</text>
<text x="129" y="70.45" font-size="10.01" textLength="7.06" lengthAdjust="spacingAndGlyphs">D</text>
<text x="136.29" y="70.45" font-size="10.01" textLength="5.67" lengthAdjust="spacingAndGlyphs">u</text>
<text x="142.19" y="70.45" font-size="10.01" textLength="4.03" lengthAdjust="spacingAndGlyphs">r</text>
<text x="146.23" y="70.45" font-size="10.01" textLength="4.73" lengthAdjust="spacingAndGlyphs">a</text>
<text x="152" y="70.45" font-size="10.01" textLength="5.67" lengthAdjust="spacingAndGlyphs">n</text>
<text x="157.87" y="70.45" font-size="10.01" textLength="3.51" lengthAdjust="spacingAndGlyphs">t</text>
<text x="164.6" y="70.45" font-size="10.01" textLength="5.68" lengthAdjust="spacingAndGlyphs">e</text>
<text x="170.39" y="70.45" font-size="10.01" textLength="3.51" lengthAdjust="spacingAndGlyphs">t</text>
<text x="177.24" y="70.45" font-size="10.01" textLength="4.73" lengthAdjust="spacingAndGlyphs">a</text>
<text x="183.07" y="70.45" font-size="10.01" textLength="2.15" lengthAdjust="spacingAndGlyphs">l</text>
<text x="185.53" y="70.45" font-size="10.01" textLength="2.84" lengthAdjust="spacingAndGlyphs">.</text>
<text x="187.95" y="70.45" font-size="10.01" textLength="3.83" lengthAdjust="spacingAndGlyphs">,</text>
<text x="194.67" y="70.45" font-size="10.01" textLength="5.34" lengthAdjust="spacingAndGlyphs">2</text>
<text x="200.71" y="70.45" font-size="10.01" textLength="5.54" lengthAdjust="spacingAndGlyphs">0</text>
<text x="206.72" y="70.45" font-size="10.01" textLength="5.54" lengthAdjust="spacingAndGlyphs">0</text>
<text x="212.64" y="70.45" font-size="10.01" textLength="5.73" lengthAdjust="spacingAndGlyphs">6</text>
<text x="219.22" y="70.45" font-size="10.01" textLength="2.66" lengthAdjust="spacingAndGlyphs">)</text>
<text x="88.75" y="85.2" font-size="10.01" textLength="6.36" lengthAdjust="spacingAndGlyphs">K</text>
<text x="94.88" y="85.2" font-size="10.01" textLength="5.68" lengthAdjust="spacingAndGlyphs">e</text>
<text x="100.73" y="85.2" font-size="10.01" textLength="4.74" lengthAdjust="spacingAndGlyphs">c</text>
<text x="105.95" y="85.2" font-size="10.01" textLength="5.28" lengthAdjust="spacingAndGlyphs">k</text>
<text x="111.49" y="85.2" font-size="10.01" textLength="5.34" lengthAdjust="spacingAndGlyphs">2</text>
<text x="120.61" y="85.2" font-size="10.01" textLength="2.66" lengthAdjust="spacingAndGlyphs">(</text>
<text x="124.11" y="85.2" font-size="10.01" textLength="7.06" lengthAdjust="spacingAndGlyphs">D</text>
<text x="131.4" y="85.2" font-size="10.01" textLength="5.67" lengthAdjust="spacingAndGlyphs">u</text>
<text x="137.3" y="85.2" font-size="10.01" textLength="4.03" lengthAdjust="spacingAndGlyphs">r</text>
<text x="141.34" y="85.2" font-size="10.01" textLength="4.73" lengthAdjust="spacingAndGlyphs">a</text>
<text x="147.11" y="85.2" font-size="10.01" textLength="5.67" lengthAdjust="spacingAndGlyphs">n</text>
<text x="152.98" y="85.2" font-size="10.01" textLength="3.51" lengthAdjust="spacingAndGlyphs">t</text>
<text x="159.71" y="85.2" font-size="10.01" textLength="5.68" lengthAdjust="spacingAndGlyphs">e</text>
<text x="165.5" y="85.2" font-size="10.01" textLength="3.51" lengthAdjust="spacingAndGlyphs">t</text>
<text x="172.35" y="85.2" font-size="10.01" textLength="4.73" lengthAdjust="spacingAndGlyphs">a</text>
<text x="178.18" y="85.2" font-size="10.01" textLength="2.15" lengthAdjust="spacingAndGlyphs">l</text>
<text x="180.64" y="85.2" font-size="10.01" textLength="2.84" lengthAdjust="spacingAndGlyphs">.</text>
<text x="183.06" y="85.2" font-size="10.01" textLength="3.83" lengthAdjust="spacingAndGlyphs">,</text>
<text x="189.78" y="85.2" font-size="10.01" textLength="5.34" lengthAdjust="spacingAndGlyphs">2</text>
<text x="195.82" y="85.2" font-size="10.01" textLength="5.54" lengthAdjust="spacingAndGlyphs">0</text>
<text x="201.83" y="85.2" font-size="10.01" textLength="5.54" lengthAdjust="spacingAndGlyphs">0</text>
<text x="207.75" y="85.2" font-size="10.01" textLength="5.73" lengthAdjust="spacingAndGlyphs">6</text>
<text x="214.33" y="85.2" font-size="10.01" textLength="2.66" lengthAdjust="spacingAndGlyphs">)</text>
<text x="88.63" y="99.95" font-size="10.01" textLength="6.4" lengthAdjust="spacingAndGlyphs">V</text>
<text x="95.19" y="99.95" font-size="10.01" textLength="5.41" lengthAdjust="spacingAndGlyphs">L</text>
<text x="100.38" y="99.95" font-size="10.01" textLength="6.35" lengthAdjust="spacingAndGlyphs">A</text>
<text x="110.11" y="99.95" font-size="10.01" textLength="2.66" lengthAdjust="spacingAndGlyphs">(</text>
<text x="113.55" y="99.95" font-size="10.01" textLength="7.17" lengthAdjust="spacingAndGlyphs">G</text>
<text x="121.01" y="99.95" font-size="10.01" textLength="4.73" lengthAdjust="spacingAndGlyphs">a</text>
<text x="126.69" y="99.95" font-size="10.01" textLength="5.68" lengthAdjust="spacingAndGlyphs">e</text>
<text x="132.59" y="99.95" font-size="10.01" textLength="5.67" lengthAdjust="spacingAndGlyphs">n</text>
<text x="138.66" y="99.95" font-size="10.01" textLength="4.53" lengthAdjust="spacingAndGlyphs">s</text>
<text x="143.56" y="99.95" font-size="10.01" textLength="2.15" lengthAdjust="spacingAndGlyphs">l</text>
<text x="146.04" y="99.95" font-size="10.01" textLength="5.68" lengthAdjust="spacingAndGlyphs">e</text>
<text x="151.82" y="99.95" font-size="10.01" textLength="4.03" lengthAdjust="spacingAndGlyphs">r</text>
<text x="158.74" y="99.95" font-size="10.01" textLength="5.68" lengthAdjust="spacingAndGlyphs">e</text>
<text x="164.53" y="99.95" font-size="10.01" textLength="3.51" lengthAdjust="spacingAndGlyphs">t</text>
<text x="171.38" y="99.95" font-size="10.01" textLength="4.73" lengthAdjust="spacingAndGlyphs">a</text>
<text x="177.21" y="99.95" font-size="10.01" textLength="2.15" lengthAdjust="spacingAndGlyphs">l</text>
<text x="179.67" y="99.95" font-size="10.01" textLength="2.84" lengthAdjust="spacingAndGlyphs">.</text>
<text x="182.09" y="99.95" font-size="10.01" textLength="3.83" lengthAdjust="spacingAndGlyphs">,</text>
<text x="188.81" y="99.95" font-size="10.01" textLength="5.34" lengthAdjust="spacingAndGlyphs">2</text>
<text x="194.85" y="99.95" font-size="10.01" textLength="5.54" lengthAdjust="spacingAndGlyphs">0</text>
<text x="200.86" y="99.95" font-size="10.01" textLength="5.54" lengthAdjust="spacingAndGlyphs">0</text>
<text x="206.96" y="99.95" font-size="10.01" textLength="5.29" lengthAdjust="spacingAndGlyphs">1</text>
<text x="213.36" y="99.95" font-size="10.01" textLength="2.66" lengthAdjust="spacingAndGlyphs">)</text>
<text x="88.87" y="114.7" font-size="10.01" textLength="8.79" lengthAdjust="spacingAndGlyphs">W</text>
<text x="98.18" y="114.7" font-size="10.01" textLength="5.62" lengthAdjust="spacingAndGlyphs">S</text>
<text x="104.13" y="114.7" font-size="10.01" textLength="6.53" lengthAdjust="spacingAndGlyphs">R</text>
<text x="110.25" y="114.7" font-size="10.01" textLength="6.3" lengthAdjust="spacingAndGlyphs">T</text>
<text x="119.6" y="114.7" font-size="10.01" textLength="2.66" lengthAdjust="spacingAndGlyphs">(</text>
<text x="123.06" y="114.7" font-size="10.01" textLength="5.71" lengthAdjust="spacingAndGlyphs">d</text>
<text x="129.06" y="114.7" font-size="10.01" textLength="5.68" lengthAdjust="spacingAndGlyphs">e</text>
<text x="134.97" y="114.7" font-size="10.01" textLength="5.67" lengthAdjust="spacingAndGlyphs">n</text>
<text x="143.93" y="114.7" font-size="10.01" textLength="6.79" lengthAdjust="spacingAndGlyphs">H</text>
<text x="151.09" y="114.7" font-size="10.01" textLength="4.73" lengthAdjust="spacingAndGlyphs">a</text>
<text x="156.73" y="114.7" font-size="10.01" textLength="4.03" lengthAdjust="spacingAndGlyphs">r</text>
<text x="160.62" y="114.7" font-size="10.01" textLength="3.51" lengthAdjust="spacingAndGlyphs">t</text>
<text x="164.36" y="114.7" font-size="10.01" textLength="5.59" lengthAdjust="spacingAndGlyphs">o</text>
<text x="170.14" y="114.7" font-size="10.01" textLength="5.71" lengthAdjust="spacingAndGlyphs">g</text>
<text x="179.14" y="114.7" font-size="10.01" textLength="5.68" lengthAdjust="spacingAndGlyphs">e</text>
<text x="184.93" y="114.7" font-size="10.01" textLength="3.51" lengthAdjust="spacingAndGlyphs">t</text>
<text x="191.78" y="114.7" font-size="10.01" textLength="4.73" lengthAdjust="spacingAndGlyphs">a</text>
<text x="197.6" y="114.7" font-size="10.01" textLength="2.15" lengthAdjust="spacingAndGlyphs">l</text>
<text x="200.07" y="114.7" font-size="10.01" textLength="2.84" lengthAdjust="spacingAndGlyphs">.</text>
<text x="202.48" y="114.7" font-size="10.01" textLength="3.83" lengthAdjust="spacingAndGlyphs">,</text>
<text x="209.21" y="114.7" font-size="10.01" textLength="5.34" lengthAdjust="spacingAndGlyphs">2</text>
<text x="215.25" y="114.7" font-size="10.01" textLength="5.54" lengthAdjust="spacingAndGlyphs">0</text>
<text x="221.26" y="114.7" font-size="10.01" textLength="5.54" lengthAdjust="spacingAndGlyphs">0</text>
<text x="227.31" y="114.7" font-size="10.01" textLength="5.42" lengthAdjust="spacingAndGlyphs">7</text>
<text x="233.76" y="114.7" font-size="10.01" textLength="2.66" lengthAdjust="spacingAndGlyphs">)</text>
<rect x="306.5" y="156.1" width="232.9" height="124.6" fill="#fff" fill-opacity="0.85" stroke="#cbcbcb" stroke-width="1"/>
<path d="M314.2 165.1H327.9" fill="none" stroke="#ff9a9a" stroke-width="1.3"/>
<circle cx="321.4" cy="178.8" r="1.6" fill="#e00000" stroke="#6a0000" stroke-width="0.6"/>
<path d="M314.9 193.5H328.2" fill="none" stroke="#ff9d5c" stroke-width="1.1" stroke-dasharray="5 4.3"/>
<path d="M314.9 207.5H328.2" fill="none" stroke="#ff9d5c" stroke-width="1.1" stroke-dasharray="5 4.3"/>
<path d="M314.3 222.6H328" fill="none" stroke="#6e7a5c" stroke-width="1.0" stroke-dasharray="4.8 4.2"/>
<path d="M318.6 238.9H322.6M320.6 236.9V240.9" fill="none" stroke="#7ded7d" stroke-width="1.1"/>
<circle cx="320.6" cy="238.9" r="1.1" fill="#7ded7d" stroke="none" stroke-width="0"/>
<path d="M315.9 254.2H329.7" fill="none" stroke="#b982eb" stroke-width="1.1"/>
<path d="M315.9 270H329.7" fill="none" stroke="#8282fa" stroke-width="1.1"/>
<text x="338.14" y="168.1" font-size="10.01" textLength="5.62" lengthAdjust="spacingAndGlyphs">S</text>
<text x="344.04" y="168.1" font-size="10.01" textLength="5.67" lengthAdjust="spacingAndGlyphs">u</text>
<text x="349.88" y="168.1" font-size="10.01" textLength="5.06" lengthAdjust="spacingAndGlyphs">z</text>
<text x="355.05" y="168.1" font-size="10.01" textLength="4.73" lengthAdjust="spacingAndGlyphs">a</text>
<text x="360.79" y="168.1" font-size="10.01" textLength="5.28" lengthAdjust="spacingAndGlyphs">k</text>
<text x="366.25" y="168.1" font-size="10.01" textLength="5.67" lengthAdjust="spacingAndGlyphs">u</text>
<text x="372.1" y="168.1" font-size="10.01" textLength="3.18" lengthAdjust="spacingAndGlyphs">/</text>
<text x="375.35" y="168.1" font-size="10.01" textLength="6.31" lengthAdjust="spacingAndGlyphs">X</text>
<text x="381.76" y="168.1" font-size="10.01" textLength="2.78" lengthAdjust="spacingAndGlyphs">I</text>
<text x="384.79" y="168.1" font-size="10.01" textLength="5.62" lengthAdjust="spacingAndGlyphs">S</text>
<text x="393.86" y="168.1" font-size="10.01" textLength="2.66" lengthAdjust="spacingAndGlyphs">(</text>
<text x="397.3" y="168.1" font-size="10.01" textLength="3.51" lengthAdjust="spacingAndGlyphs">t</text>
<text x="401.09" y="168.1" font-size="10.01" textLength="5.71" lengthAdjust="spacingAndGlyphs">h</text>
<text x="407.17" y="168.1" font-size="10.01" textLength="2.15" lengthAdjust="spacingAndGlyphs">i</text>
<text x="409.81" y="168.1" font-size="10.01" textLength="4.53" lengthAdjust="spacingAndGlyphs">s</text>
<text x="417.89" y="168.1" font-size="10.01" textLength="6.9" lengthAdjust="spacingAndGlyphs">w</text>
<text x="425.31" y="168.1" font-size="10.01" textLength="5.59" lengthAdjust="spacingAndGlyphs">o</text>
<text x="431.05" y="168.1" font-size="10.01" textLength="4.03" lengthAdjust="spacingAndGlyphs">r</text>
<text x="435.02" y="168.1" font-size="10.01" textLength="5.28" lengthAdjust="spacingAndGlyphs">k</text>
<text x="441.06" y="168.1" font-size="10.01" textLength="2.66" lengthAdjust="spacingAndGlyphs">)</text>
<text x="338.14" y="182.3" font-size="10.01" textLength="5.62" lengthAdjust="spacingAndGlyphs">S</text>
<text x="344.04" y="182.3" font-size="10.01" textLength="5.67" lengthAdjust="spacingAndGlyphs">u</text>
<text x="349.88" y="182.3" font-size="10.01" textLength="5.06" lengthAdjust="spacingAndGlyphs">z</text>
<text x="355.05" y="182.3" font-size="10.01" textLength="4.73" lengthAdjust="spacingAndGlyphs">a</text>
<text x="360.79" y="182.3" font-size="10.01" textLength="5.28" lengthAdjust="spacingAndGlyphs">k</text>
<text x="366.25" y="182.3" font-size="10.01" textLength="5.67" lengthAdjust="spacingAndGlyphs">u</text>
<text x="372.1" y="182.3" font-size="10.01" textLength="3.18" lengthAdjust="spacingAndGlyphs">/</text>
<text x="375.44" y="182.3" font-size="10.01" textLength="6.79" lengthAdjust="spacingAndGlyphs">H</text>
<text x="382.46" y="182.3" font-size="10.01" textLength="6.31" lengthAdjust="spacingAndGlyphs">X</text>
<text x="388.99" y="182.3" font-size="10.01" textLength="7.06" lengthAdjust="spacingAndGlyphs">D</text>
<text x="399.46" y="182.3" font-size="10.01" textLength="2.66" lengthAdjust="spacingAndGlyphs">(</text>
<text x="402.89" y="182.3" font-size="10.01" textLength="3.51" lengthAdjust="spacingAndGlyphs">t</text>
<text x="406.68" y="182.3" font-size="10.01" textLength="5.71" lengthAdjust="spacingAndGlyphs">h</text>
<text x="412.77" y="182.3" font-size="10.01" textLength="2.15" lengthAdjust="spacingAndGlyphs">i</text>
<text x="415.41" y="182.3" font-size="10.01" textLength="4.53" lengthAdjust="spacingAndGlyphs">s</text>
<text x="423.49" y="182.3" font-size="10.01" textLength="6.9" lengthAdjust="spacingAndGlyphs">w</text>
<text x="430.91" y="182.3" font-size="10.01" textLength="5.59" lengthAdjust="spacingAndGlyphs">o</text>
<text x="436.64" y="182.3" font-size="10.01" textLength="4.03" lengthAdjust="spacingAndGlyphs">r</text>
<text x="440.62" y="182.3" font-size="10.01" textLength="5.28" lengthAdjust="spacingAndGlyphs">k</text>
<text x="446.66" y="182.3" font-size="10.01" textLength="2.66" lengthAdjust="spacingAndGlyphs">)</text>
<text x="338.14" y="196.9" font-size="10.01" textLength="5.62" lengthAdjust="spacingAndGlyphs">S</text>
<text x="344" y="196.9" font-size="10.01" textLength="5.59" lengthAdjust="spacingAndGlyphs">o</text>
<text x="349.72" y="196.9" font-size="10.01" textLength="3.45" lengthAdjust="spacingAndGlyphs">f</text>
<text x="353.07" y="196.9" font-size="10.01" textLength="3.51" lengthAdjust="spacingAndGlyphs">t</text>
<text x="359.8" y="196.9" font-size="10.01" textLength="6.34" lengthAdjust="spacingAndGlyphs">C</text>
<text x="366.41" y="196.9" font-size="10.01" textLength="5.59" lengthAdjust="spacingAndGlyphs">o</text>
<text x="372.24" y="196.9" font-size="10.01" textLength="8.97" lengthAdjust="spacingAndGlyphs">m</text>
<text x="381.5" y="196.9" font-size="10.01" textLength="5.72" lengthAdjust="spacingAndGlyphs">p</text>
<text x="387.4" y="196.9" font-size="10.01" textLength="5.59" lengthAdjust="spacingAndGlyphs">o</text>
<text x="393.26" y="196.9" font-size="10.01" textLength="5.67" lengthAdjust="spacingAndGlyphs">n</text>
<text x="399.16" y="196.9" font-size="10.01" textLength="5.68" lengthAdjust="spacingAndGlyphs">e</text>
<text x="405.07" y="196.9" font-size="10.01" textLength="5.67" lengthAdjust="spacingAndGlyphs">n</text>
<text x="410.94" y="196.9" font-size="10.01" textLength="3.51" lengthAdjust="spacingAndGlyphs">t</text>
<text x="417.74" y="196.9" font-size="10.01" textLength="7.85" lengthAdjust="spacingAndGlyphs">M</text>
<text x="425.84" y="196.9" font-size="10.01" textLength="5.59" lengthAdjust="spacingAndGlyphs">o</text>
<text x="431.61" y="196.9" font-size="10.01" textLength="5.71" lengthAdjust="spacingAndGlyphs">d</text>
<text x="437.61" y="196.9" font-size="10.01" textLength="5.68" lengthAdjust="spacingAndGlyphs">e</text>
<text x="443.57" y="196.9" font-size="10.01" textLength="2.15" lengthAdjust="spacingAndGlyphs">l</text>
<text x="338.06" y="210.7" font-size="10.01" textLength="6.79" lengthAdjust="spacingAndGlyphs">H</text>
<text x="345.21" y="210.7" font-size="10.01" textLength="4.73" lengthAdjust="spacingAndGlyphs">a</text>
<text x="350.85" y="210.7" font-size="10.01" textLength="4.03" lengthAdjust="spacingAndGlyphs">r</text>
<text x="354.77" y="210.7" font-size="10.01" textLength="5.71" lengthAdjust="spacingAndGlyphs">d</text>
<text x="363.77" y="210.7" font-size="10.01" textLength="6.34" lengthAdjust="spacingAndGlyphs">C</text>
<text x="370.38" y="210.7" font-size="10.01" textLength="5.59" lengthAdjust="spacingAndGlyphs">o</text>
<text x="376.21" y="210.7" font-size="10.01" textLength="8.97" lengthAdjust="spacingAndGlyphs">m</text>
<text x="385.47" y="210.7" font-size="10.01" textLength="5.72" lengthAdjust="spacingAndGlyphs">p</text>
<text x="391.37" y="210.7" font-size="10.01" textLength="5.59" lengthAdjust="spacingAndGlyphs">o</text>
<text x="397.23" y="210.7" font-size="10.01" textLength="5.67" lengthAdjust="spacingAndGlyphs">n</text>
<text x="403.13" y="210.7" font-size="10.01" textLength="5.68" lengthAdjust="spacingAndGlyphs">e</text>
<text x="409.04" y="210.7" font-size="10.01" textLength="5.67" lengthAdjust="spacingAndGlyphs">n</text>
<text x="414.91" y="210.7" font-size="10.01" textLength="3.51" lengthAdjust="spacingAndGlyphs">t</text>
<text x="421.71" y="210.7" font-size="10.01" textLength="7.85" lengthAdjust="spacingAndGlyphs">M</text>
<text x="429.8" y="210.7" font-size="10.01" textLength="5.59" lengthAdjust="spacingAndGlyphs">o</text>
<text x="435.58" y="210.7" font-size="10.01" textLength="5.71" lengthAdjust="spacingAndGlyphs">d</text>
<text x="441.57" y="210.7" font-size="10.01" textLength="5.68" lengthAdjust="spacingAndGlyphs">e</text>
<text x="447.54" y="210.7" font-size="10.01" textLength="2.15" lengthAdjust="spacingAndGlyphs">l</text>
<text x="337.97" y="226.1" font-size="10.01" textLength="6.31" lengthAdjust="spacingAndGlyphs">X</text>
<text x="344.53" y="226.1" font-size="10.01" textLength="7.85" lengthAdjust="spacingAndGlyphs">M</text>
<text x="352.68" y="226.1" font-size="10.01" textLength="7.85" lengthAdjust="spacingAndGlyphs">M</text>
<text x="360.69" y="226.1" font-size="10.01" textLength="3.39" lengthAdjust="spacingAndGlyphs">-</text>
<text x="364.25" y="226.1" font-size="10.01" textLength="6.74" lengthAdjust="spacingAndGlyphs">N</text>
<text x="371.25" y="226.1" font-size="10.01" textLength="5.68" lengthAdjust="spacingAndGlyphs">e</text>
<text x="377.38" y="226.1" font-size="10.01" textLength="6.9" lengthAdjust="spacingAndGlyphs">w</text>
<text x="384.77" y="226.1" font-size="10.01" textLength="3.51" lengthAdjust="spacingAndGlyphs">t</text>
<text x="388.51" y="226.1" font-size="10.01" textLength="5.59" lengthAdjust="spacingAndGlyphs">o</text>
<text x="394.37" y="226.1" font-size="10.01" textLength="5.67" lengthAdjust="spacingAndGlyphs">n</text>
<text x="400.18" y="226.1" font-size="10.01" textLength="3.18" lengthAdjust="spacingAndGlyphs">/</text>
<text x="403.6" y="226.1" font-size="10.01" textLength="5.57" lengthAdjust="spacingAndGlyphs">P</text>
<text x="409.22" y="226.1" font-size="10.01" textLength="6.74" lengthAdjust="spacingAndGlyphs">N</text>
<text x="419.45" y="226.1" font-size="10.01" textLength="2.66" lengthAdjust="spacingAndGlyphs">(</text>
<text x="423.01" y="226.1" font-size="10.01" textLength="6.53" lengthAdjust="spacingAndGlyphs">R</text>
<text x="429.47" y="226.1" font-size="10.01" textLength="5.68" lengthAdjust="spacingAndGlyphs">e</text>
<text x="435.41" y="226.1" font-size="10.01" textLength="4.73" lengthAdjust="spacingAndGlyphs">a</text>
<text x="444.08" y="226.1" font-size="10.01" textLength="5.68" lengthAdjust="spacingAndGlyphs">e</text>
<text x="449.87" y="226.1" font-size="10.01" textLength="3.51" lengthAdjust="spacingAndGlyphs">t</text>
<text x="456.73" y="226.1" font-size="10.01" textLength="4.73" lengthAdjust="spacingAndGlyphs">a</text>
<text x="462.55" y="226.1" font-size="10.01" textLength="2.15" lengthAdjust="spacingAndGlyphs">l</text>
<text x="465.01" y="226.1" font-size="10.01" textLength="2.84" lengthAdjust="spacingAndGlyphs">.</text>
<text x="467.43" y="226.1" font-size="10.01" textLength="3.83" lengthAdjust="spacingAndGlyphs">,</text>
<text x="474.16" y="226.1" font-size="10.01" textLength="5.34" lengthAdjust="spacingAndGlyphs">2</text>
<text x="480.19" y="226.1" font-size="10.01" textLength="5.54" lengthAdjust="spacingAndGlyphs">0</text>
<text x="486.21" y="226.1" font-size="10.01" textLength="5.54" lengthAdjust="spacingAndGlyphs">0</text>
<text x="492.26" y="226.1" font-size="10.01" textLength="5.42" lengthAdjust="spacingAndGlyphs">7</text>
<text x="498.71" y="226.1" font-size="10.01" textLength="2.66" lengthAdjust="spacingAndGlyphs">)</text>
<text x="337.91" y="241.8" font-size="10.01" textLength="2.78" lengthAdjust="spacingAndGlyphs">I</text>
<text x="340.85" y="241.8" font-size="10.01" textLength="6.74" lengthAdjust="spacingAndGlyphs">N</text>
<text x="347.5" y="241.8" font-size="10.01" textLength="6.3" lengthAdjust="spacingAndGlyphs">T</text>
<text x="353.78" y="241.8" font-size="10.01" textLength="5.46" lengthAdjust="spacingAndGlyphs">E</text>
<text x="359.57" y="241.8" font-size="10.01" textLength="7.17" lengthAdjust="spacingAndGlyphs">G</text>
<text x="367.01" y="241.8" font-size="10.01" textLength="6.53" lengthAdjust="spacingAndGlyphs">R</text>
<text x="373.44" y="241.8" font-size="10.01" textLength="6.35" lengthAdjust="spacingAndGlyphs">A</text>
<text x="379.98" y="241.8" font-size="10.01" textLength="5.41" lengthAdjust="spacingAndGlyphs">L</text>
<text x="385.12" y="241.8" font-size="10.01" textLength="3.18" lengthAdjust="spacingAndGlyphs">/</text>
<text x="388.31" y="241.8" font-size="10.01" textLength="2.78" lengthAdjust="spacingAndGlyphs">I</text>
<text x="391.33" y="241.8" font-size="10.01" textLength="5.62" lengthAdjust="spacingAndGlyphs">S</text>
<text x="397.15" y="241.8" font-size="10.01" textLength="7.17" lengthAdjust="spacingAndGlyphs">G</text>
<text x="404.6" y="241.8" font-size="10.01" textLength="6.53" lengthAdjust="spacingAndGlyphs">R</text>
<text x="410.98" y="241.8" font-size="10.01" textLength="2.78" lengthAdjust="spacingAndGlyphs">I</text>
<text x="417.08" y="241.8" font-size="10.01" textLength="2.66" lengthAdjust="spacingAndGlyphs">(</text>
<text x="420.54" y="241.8" font-size="10.01" textLength="5.71" lengthAdjust="spacingAndGlyphs">d</text>
<text x="426.54" y="241.8" font-size="10.01" textLength="5.68" lengthAdjust="spacingAndGlyphs">e</text>
<text x="432.45" y="241.8" font-size="10.01" textLength="5.67" lengthAdjust="spacingAndGlyphs">n</text>
<text x="441.42" y="241.8" font-size="10.01" textLength="6.79" lengthAdjust="spacingAndGlyphs">H</text>
<text x="448.57" y="241.8" font-size="10.01" textLength="4.73" lengthAdjust="spacingAndGlyphs">a</text>
<text x="454.21" y="241.8" font-size="10.01" textLength="4.03" lengthAdjust="spacingAndGlyphs">r</text>
<text x="458.1" y="241.8" font-size="10.01" textLength="3.51" lengthAdjust="spacingAndGlyphs">t</text>
<text x="461.85" y="241.8" font-size="10.01" textLength="5.59" lengthAdjust="spacingAndGlyphs">o</text>
<text x="467.62" y="241.8" font-size="10.01" textLength="5.71" lengthAdjust="spacingAndGlyphs">g</text>
<text x="476.62" y="241.8" font-size="10.01" textLength="5.68" lengthAdjust="spacingAndGlyphs">e</text>
<text x="482.41" y="241.8" font-size="10.01" textLength="3.51" lengthAdjust="spacingAndGlyphs">t</text>
<text x="489.26" y="241.8" font-size="10.01" textLength="4.73" lengthAdjust="spacingAndGlyphs">a</text>
<text x="495.08" y="241.8" font-size="10.01" textLength="2.15" lengthAdjust="spacingAndGlyphs">l</text>
<text x="497.55" y="241.8" font-size="10.01" textLength="2.84" lengthAdjust="spacingAndGlyphs">.</text>
<text x="499.97" y="241.8" font-size="10.01" textLength="3.83" lengthAdjust="spacingAndGlyphs">,</text>
<text x="506.69" y="241.8" font-size="10.01" textLength="5.34" lengthAdjust="spacingAndGlyphs">2</text>
<text x="512.73" y="241.8" font-size="10.01" textLength="5.54" lengthAdjust="spacingAndGlyphs">0</text>
<text x="518.74" y="241.8" font-size="10.01" textLength="5.54" lengthAdjust="spacingAndGlyphs">0</text>
<text x="524.72" y="241.8" font-size="10.01" textLength="5.6" lengthAdjust="spacingAndGlyphs">8</text>
<text x="531.24" y="241.8" font-size="10.01" textLength="2.66" lengthAdjust="spacingAndGlyphs">)</text>
<text x="337.99" y="257.3" font-size="10.01" textLength="6.34" lengthAdjust="spacingAndGlyphs">C</text>
<text x="344.57" y="257.3" font-size="10.01" textLength="7.17" lengthAdjust="spacingAndGlyphs">G</text>
<text x="352.01" y="257.3" font-size="10.01" textLength="6.53" lengthAdjust="spacingAndGlyphs">R</text>
<text x="358.48" y="257.3" font-size="10.01" textLength="7.27" lengthAdjust="spacingAndGlyphs">O</text>
<text x="365.83" y="257.3" font-size="10.01" textLength="3.18" lengthAdjust="spacingAndGlyphs">/</text>
<text x="369.09" y="257.3" font-size="10.01" textLength="6.34" lengthAdjust="spacingAndGlyphs">C</text>
<text x="375.7" y="257.3" font-size="10.01" textLength="7.27" lengthAdjust="spacingAndGlyphs">O</text>
<text x="383.2" y="257.3" font-size="10.01" textLength="7.85" lengthAdjust="spacingAndGlyphs">M</text>
<text x="391.44" y="257.3" font-size="10.01" textLength="5.57" lengthAdjust="spacingAndGlyphs">P</text>
<text x="396.64" y="257.3" font-size="10.01" textLength="6.3" lengthAdjust="spacingAndGlyphs">T</text>
<text x="402.93" y="257.3" font-size="10.01" textLength="5.46" lengthAdjust="spacingAndGlyphs">E</text>
<text x="408.77" y="257.3" font-size="10.01" textLength="5.41" lengthAdjust="spacingAndGlyphs">L</text>
<text x="417.23" y="257.3" font-size="10.01" textLength="2.66" lengthAdjust="spacingAndGlyphs">(</text>
<text x="420.74" y="257.3" font-size="10.01" textLength="6.36" lengthAdjust="spacingAndGlyphs">K</text>
<text x="426.93" y="257.3" font-size="10.01" textLength="5.67" lengthAdjust="spacingAndGlyphs">u</text>
<text x="433.03" y="257.3" font-size="10.01" textLength="2.15" lengthAdjust="spacingAndGlyphs">i</text>
<text x="435.6" y="257.3" font-size="10.01" textLength="5.72" lengthAdjust="spacingAndGlyphs">p</text>
<text x="441.49" y="257.3" font-size="10.01" textLength="5.68" lengthAdjust="spacingAndGlyphs">e</text>
<text x="447.28" y="257.3" font-size="10.01" textLength="4.03" lengthAdjust="spacingAndGlyphs">r</text>
<text x="454.2" y="257.3" font-size="10.01" textLength="5.68" lengthAdjust="spacingAndGlyphs">e</text>
<text x="459.99" y="257.3" font-size="10.01" textLength="3.51" lengthAdjust="spacingAndGlyphs">t</text>
<text x="466.84" y="257.3" font-size="10.01" textLength="4.73" lengthAdjust="spacingAndGlyphs">a</text>
<text x="472.66" y="257.3" font-size="10.01" textLength="2.15" lengthAdjust="spacingAndGlyphs">l</text>
<text x="475.13" y="257.3" font-size="10.01" textLength="2.84" lengthAdjust="spacingAndGlyphs">.</text>
<text x="477.54" y="257.3" font-size="10.01" textLength="3.83" lengthAdjust="spacingAndGlyphs">,</text>
<text x="484.27" y="257.3" font-size="10.01" textLength="5.34" lengthAdjust="spacingAndGlyphs">2</text>
<text x="490.31" y="257.3" font-size="10.01" textLength="5.54" lengthAdjust="spacingAndGlyphs">0</text>
<text x="496.32" y="257.3" font-size="10.01" textLength="5.54" lengthAdjust="spacingAndGlyphs">0</text>
<text x="502.23" y="257.3" font-size="10.01" textLength="5.73" lengthAdjust="spacingAndGlyphs">6</text>
<text x="508.82" y="257.3" font-size="10.01" textLength="2.66" lengthAdjust="spacingAndGlyphs">)</text>
<text x="338.16" y="272" font-size="10.01" textLength="4.95" lengthAdjust="spacingAndGlyphs">F</text>
<text x="343.42" y="272" font-size="10.01" textLength="5.68" lengthAdjust="spacingAndGlyphs">e</text>
<text x="349.2" y="272" font-size="10.01" textLength="4.03" lengthAdjust="spacingAndGlyphs">r</text>
<text x="353.18" y="272" font-size="10.01" textLength="8.97" lengthAdjust="spacingAndGlyphs">m</text>
<text x="362.48" y="272" font-size="10.01" textLength="2.15" lengthAdjust="spacingAndGlyphs">i</text>
<text x="364.87" y="272" font-size="10.01" textLength="3.18" lengthAdjust="spacingAndGlyphs">/</text>
<text x="368.18" y="272" font-size="10.01" textLength="5.41" lengthAdjust="spacingAndGlyphs">L</text>
<text x="373.37" y="272" font-size="10.01" textLength="6.35" lengthAdjust="spacingAndGlyphs">A</text>
<text x="379.52" y="272" font-size="10.01" textLength="6.3" lengthAdjust="spacingAndGlyphs">T</text>
<text x="388.87" y="272" font-size="10.01" textLength="2.66" lengthAdjust="spacingAndGlyphs">(</text>
<text x="392.3" y="272" font-size="10.01" textLength="6.35" lengthAdjust="spacingAndGlyphs">A</text>
<text x="398.9" y="272" font-size="10.01" textLength="5.72" lengthAdjust="spacingAndGlyphs">b</text>
<text x="404.8" y="272" font-size="10.01" textLength="5.71" lengthAdjust="spacingAndGlyphs">d</text>
<text x="410.8" y="272" font-size="10.01" textLength="5.59" lengthAdjust="spacingAndGlyphs">o</text>
<text x="419.58" y="272" font-size="10.01" textLength="5.68" lengthAdjust="spacingAndGlyphs">e</text>
<text x="425.37" y="272" font-size="10.01" textLength="3.51" lengthAdjust="spacingAndGlyphs">t</text>
<text x="432.22" y="272" font-size="10.01" textLength="4.73" lengthAdjust="spacingAndGlyphs">a</text>
<text x="438.04" y="272" font-size="10.01" textLength="2.15" lengthAdjust="spacingAndGlyphs">l</text>
<text x="440.51" y="272" font-size="10.01" textLength="2.84" lengthAdjust="spacingAndGlyphs">.</text>
<text x="442.92" y="272" font-size="10.01" textLength="3.83" lengthAdjust="spacingAndGlyphs">,</text>
<text x="449.65" y="272" font-size="10.01" textLength="5.34" lengthAdjust="spacingAndGlyphs">2</text>
<text x="455.69" y="272" font-size="10.01" textLength="5.54" lengthAdjust="spacingAndGlyphs">0</text>
<text x="461.78" y="272" font-size="10.01" textLength="5.29" lengthAdjust="spacingAndGlyphs">1</text>
<text x="467.71" y="272" font-size="10.01" textLength="5.54" lengthAdjust="spacingAndGlyphs">0</text>
<text x="474.2" y="272" font-size="10.01" textLength="2.66" lengthAdjust="spacingAndGlyphs">)</text>
</svg></body></html>
